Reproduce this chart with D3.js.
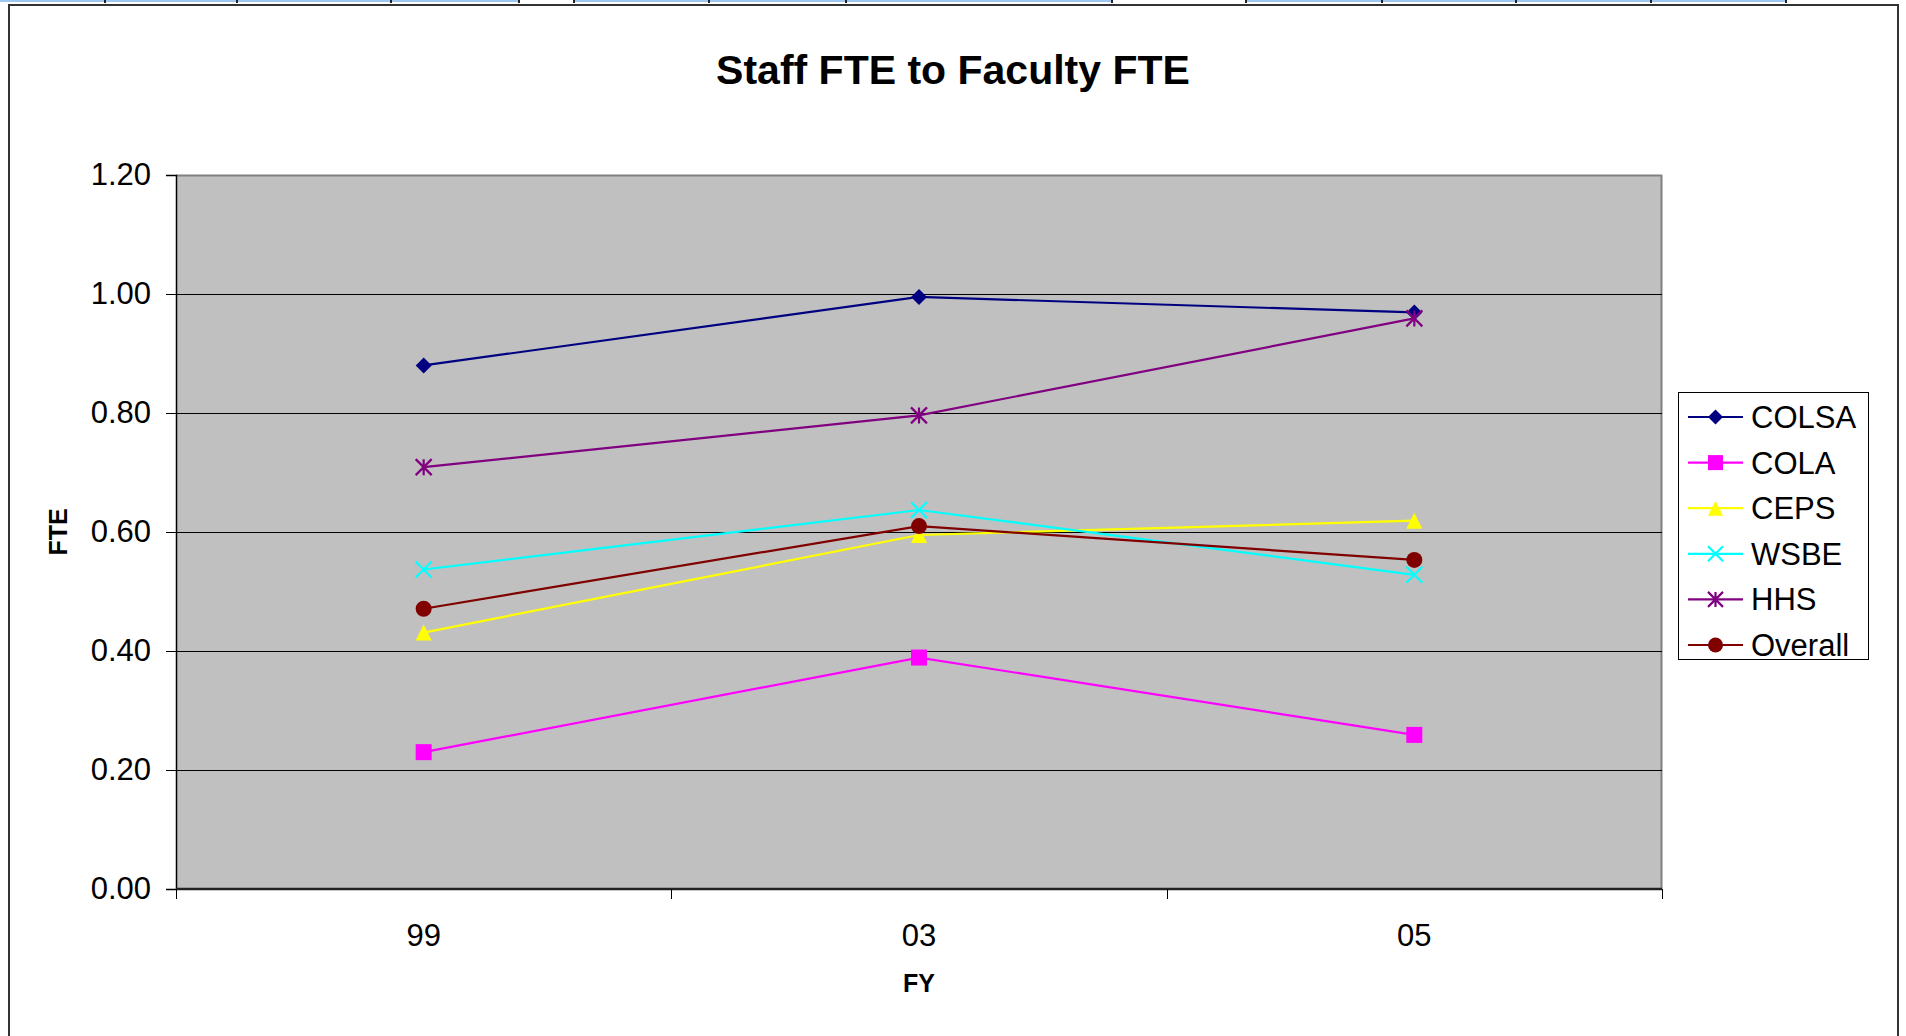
<!DOCTYPE html>
<html>
<head>
<meta charset="utf-8">
<script src="https://cdn.jsdelivr.net/npm/d3@7"></script>
<style>
  html, body { margin: 0; padding: 0; background: #ffffff; }
  svg { display: block; }
  text { font-family: "Liberation Sans", Arial, sans-serif; }
</style>
</head>
<body>
<svg id="chart" width="1906" height="1036"></svg>
<script>
// ---- data ----
const categories = ["99", "03", "05"];
const seriesNames = ["COLSA", "COLA", "CEPS", "WSBE", "HHS", "Overall"];
const colsa   = [0.88, 0.995, 0.969];
const cola    = [0.23, 0.389, 0.259];
const ceps    = [0.431, 0.595, 0.619];
const wsbe    = [0.537, 0.637, 0.528];
const hhs     = [0.709, 0.796, 0.959];
const overall = [0.471, 0.610, 0.553];
const yTicks  = [0, 0.2, 0.4, 0.6, 0.8, 1.0, 1.2];
const titleText = "Staff FTE to Faculty FTE";
const xTitle = "FY";
const yTitle = "FTE";

const seriesValues = [colsa, cola, ceps, wsbe, hhs, overall];
const colors = ["#000080", "#FF00FF", "#FFFF00", "#00FFFF", "#800080", "#800000"];
const shapes = ["diamond", "square", "triangle", "x", "star", "circle"];

const svg = d3.select("#chart");

// spreadsheet strip at top
const stripSegs = [[0, 518], [573, 1111], [1245, 1785]];
stripSegs.forEach(s => svg.append("rect").attr("x", s[0]).attr("y", 0).attr("width", s[1] - s[0]).attr("height", 2).attr("fill", "#9ec6f2"));
[104, 236, 390, 518, 573, 708, 845, 1111, 1245, 1381, 1515, 1650, 1785].forEach(x =>
  svg.append("rect").attr("x", x).attr("y", 0).attr("width", 2).attr("height", 3).attr("fill", "#222"));

// chart border
svg.append("path").attr("d", "M9,1036 V5 H1898 V1036").attr("fill", "none").attr("stroke", "#333").attr("stroke-width", 2);

// plot
const L = 176, R = 1662, T = 175, B = 889;
const x = d3.scaleBand().domain(categories).range([L, R]).padding(0);
const y = d3.scaleLinear().domain([0, 1.2]).range([B, T]);
const cx = c => x(c) + x.bandwidth() / 2;

svg.append("rect").attr("x", L).attr("y", T).attr("width", R - L).attr("height", B - T).attr("fill", "#C0C0C0");
svg.append("line").attr("x1", L).attr("x2", R).attr("y1", T + 0.5).attr("y2", T + 0.5).attr("stroke", "#808080").attr("stroke-width", 2);
svg.append("line").attr("x1", R - 0.5).attr("x2", R - 0.5).attr("y1", T).attr("y2", B).attr("stroke", "#808080").attr("stroke-width", 2);

// gridlines
svg.append("g").selectAll("line").data(yTicks.filter(v => v > 0 && v < 1.2)).join("line")
  .attr("x1", L).attr("x2", R)
  .attr("y1", d => Math.round(y(d)) + 0.5).attr("y2", d => Math.round(y(d)) + 0.5)
  .attr("stroke", "#000").attr("stroke-width", 1);

// y axis
const yAxis = d3.axisLeft(y).tickValues(yTicks).tickFormat(d3.format(".2f")).tickSize(10).tickPadding(15);
const gy = svg.append("g").attr("transform", `translate(${L},0)`).call(yAxis);
gy.select(".domain").attr("stroke", "#000").attr("stroke-width", 1.5);
gy.selectAll(".tick line").attr("stroke", "#000");
gy.selectAll(".tick text").attr("font-size", 31).attr("fill", "#000")
  .style("font-family", '"Liberation Sans", Arial, sans-serif');

// x axis (ticks at category boundaries)
const boundaries = categories.map(c => x(c)).concat([x(categories[categories.length - 1]) + x.bandwidth()]);
svg.append("line").attr("x1", L).attr("x2", R).attr("y1", B).attr("y2", B).attr("stroke", "#222").attr("stroke-width", 2.5);
svg.append("g").selectAll("line").data(boundaries).join("line")
  .attr("x1", d => Math.round(d) + 0.5).attr("x2", d => Math.round(d) + 0.5)
  .attr("y1", B).attr("y2", B + 10).attr("stroke", "#000");
svg.append("g").selectAll("text").data(categories).join("text")
  .attr("x", d => cx(d)).attr("y", 946).attr("text-anchor", "middle")
  .attr("font-size", 31).attr("fill", "#000").text(d => d);

// titles
svg.append("text").attr("x", 953).attr("y", 84).attr("text-anchor", "middle")
  .attr("font-size", 41).attr("font-weight", "bold").text(titleText);
svg.append("text").attr("x", 919).attr("y", 992).attr("text-anchor", "middle")
  .attr("font-size", 25).attr("font-weight", "bold").text(xTitle);
svg.append("text").attr("transform", `translate(67,532) rotate(-90)`).attr("text-anchor", "middle")
  .attr("font-size", 25).attr("font-weight", "bold").text(yTitle);

// marker drawing
function drawMarker(g, shape, color, s) {
  const h = s / 2;
  if (shape === "diamond") {
    g.append("path").attr("d", `M0,${-h} L${h},0 L0,${h} L${-h},0 Z`).attr("fill", color);
  } else if (shape === "square") {
    g.append("rect").attr("x", -h).attr("y", -h).attr("width", s).attr("height", s).attr("fill", color);
  } else if (shape === "triangle") {
    g.append("path").attr("d", `M0,${-h} L${h},${h} L${-h},${h} Z`).attr("fill", color);
  } else if (shape === "x") {
    g.append("path").attr("d", `M${-h},${-h} L${h},${h} M${h},${-h} L${-h},${h}`).attr("stroke", color).attr("stroke-width", 2.2).attr("fill", "none");
  } else if (shape === "star") {
    g.append("path").attr("d", `M${-h},${-h} L${h},${h} M${h},${-h} L${-h},${h} M0,${-h} L0,${h}`).attr("stroke", color).attr("stroke-width", 2.2).attr("fill", "none");
  } else if (shape === "circle") {
    g.append("circle").attr("r", h).attr("fill", color);
  }
}

// series
const line = d3.line().x((d, i) => cx(categories[i])).y(d => y(d));
seriesValues.forEach((vals, si) => {
  const g = svg.append("g");
  g.append("path").datum(vals).attr("d", line).attr("fill", "none")
    .attr("stroke", colors[si]).attr("stroke-width", 2.2);
  vals.forEach((v, i) => {
    const mg = g.append("g").attr("transform", `translate(${cx(categories[i])},${y(v)})`);
    drawMarker(mg, shapes[si], colors[si], 16);
  });
});

// legend
const lg = svg.append("g");
lg.append("rect").attr("x", 1678.5).attr("y", 392.5).attr("width", 190).attr("height", 267)
  .attr("fill", "#fff").attr("stroke", "#000").attr("stroke-width", 1);
const legendY = d3.scalePoint().domain(seriesNames).range([417, 645]);
seriesNames.forEach((name, si) => {
  const yy = legendY(name);
  lg.append("line").attr("x1", 1688).attr("x2", 1743).attr("y1", yy).attr("y2", yy)
    .attr("stroke", colors[si]).attr("stroke-width", 2.2);
  const mg = lg.append("g").attr("transform", `translate(1715.5,${yy})`);
  drawMarker(mg, shapes[si], colors[si], 15);
  lg.append("text").attr("x", 1751).attr("y", yy + 11).attr("font-size", 31).attr("fill", "#000").text(name);
});
</script>
</body>
</html>
